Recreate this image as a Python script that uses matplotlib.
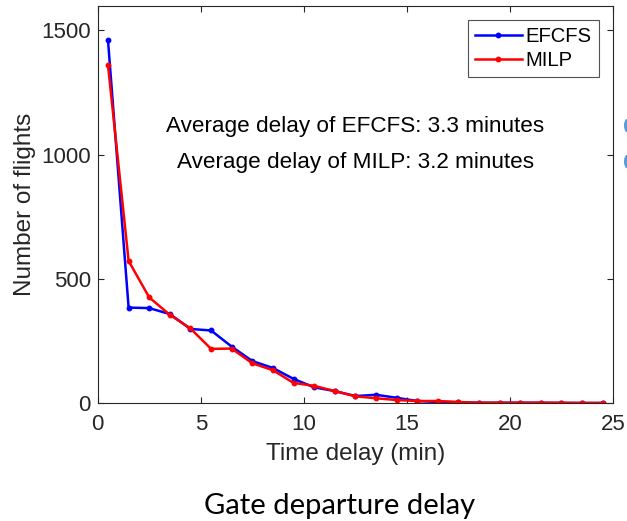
import numpy as np
import matplotlib.pyplot as plt
from matplotlib.patches import Arc

# delay bins (min) and flight counts
delay = [0.5, 1.5, 2.5, 3.5, 4.5, 5.5, 6.5, 7.5, 8.5, 9.5, 10.5, 11.5, 12.5,
         13.5, 14.5, 15.5, 16.5, 17.5, 18.5, 19.5, 20.5, 21.5, 22.5, 23.5, 24.5]
efcfs = [1460, 384, 382, 358, 298, 292, 227, 169, 141, 97, 63, 48, 28,
         33, 21, 8, 4, 3, 1, 1, 1, 1, 0, 0, 0]
milp = [1360, 572, 425, 355, 300, 218, 219, 160, 132, 81, 69, 48, 27,
        19, 12, 8, 8, 4, 1, 1, 1, 1, 1, 0, 0]
notes = ['Average delay of EFCFS: 3.3 minutes',
         'Average delay of MILP: 3.2 minutes']

plt.rcParams['font.family'] = ['Liberation Sans', 'DejaVu Sans']
ink = '#262626'

fig = plt.figure(figsize=(6.27, 5.21), dpi=100)
ax = fig.add_axes([0.1558, 0.2265, 0.8219, 0.7629])

ax.plot(delay, efcfs, color='#0000ff', lw=1.8, marker='o', ms=3.2, label='EFCFS')
ax.plot(delay, milp, color='#ff0000', lw=1.8, marker='o', ms=3.2, label='MILP')

ax.set_xlim(0, 25)
ax.set_ylim(0, 1600)
ax.set_xticks([0, 5, 10, 15, 20, 25])
ax.set_yticks([0, 500, 1000, 1500])
ax.tick_params(direction='in', top=True, right=True, length=4.5, width=0.8,
               labelsize=16, colors=ink)
ax.tick_params(axis='x', pad=8)
ax.tick_params(axis='y', pad=5)
for s in ax.spines.values():
    s.set_color(ink)
    s.set_linewidth(0.8)

ax.set_xlabel('Time delay (min)', fontsize=17.5, color=ink, labelpad=6)
ax.set_ylabel('Number of flights', fontsize=17.5, color=ink, labelpad=4)

ax.text(12.5, 1113, notes[0], ha='center', va='center', fontsize=16.2, color='black')
ax.text(12.5, 968, notes[1], ha='center', va='center', fontsize=16.2, color='black')

leg = ax.legend(loc='upper right', fontsize=14.6, frameon=True, fancybox=False,
                handlelength=2.3, handletextpad=0.2, borderpad=0.35,
                labelspacing=0.25, borderaxespad=0.7)
leg.get_frame().set_edgecolor(ink)
leg.get_frame().set_linewidth(0.8)

fig.text(0.541, 0.029, 'Gate departure delay', ha='center', va='center',
         fontsize=21, family=['Lato', 'DejaVu Sans'], color='black')

# clipped bits of neighbouring content at the right edge
for yy in (0.759, 0.690):
    fig.add_artist(Arc((1.0072, yy), 12 / 627, 16 / 521, theta1=120, theta2=240,
                       transform=fig.transFigure, color='#5b9bd5', lw=2.2))

fig.savefig('out.png', dpi=100)
